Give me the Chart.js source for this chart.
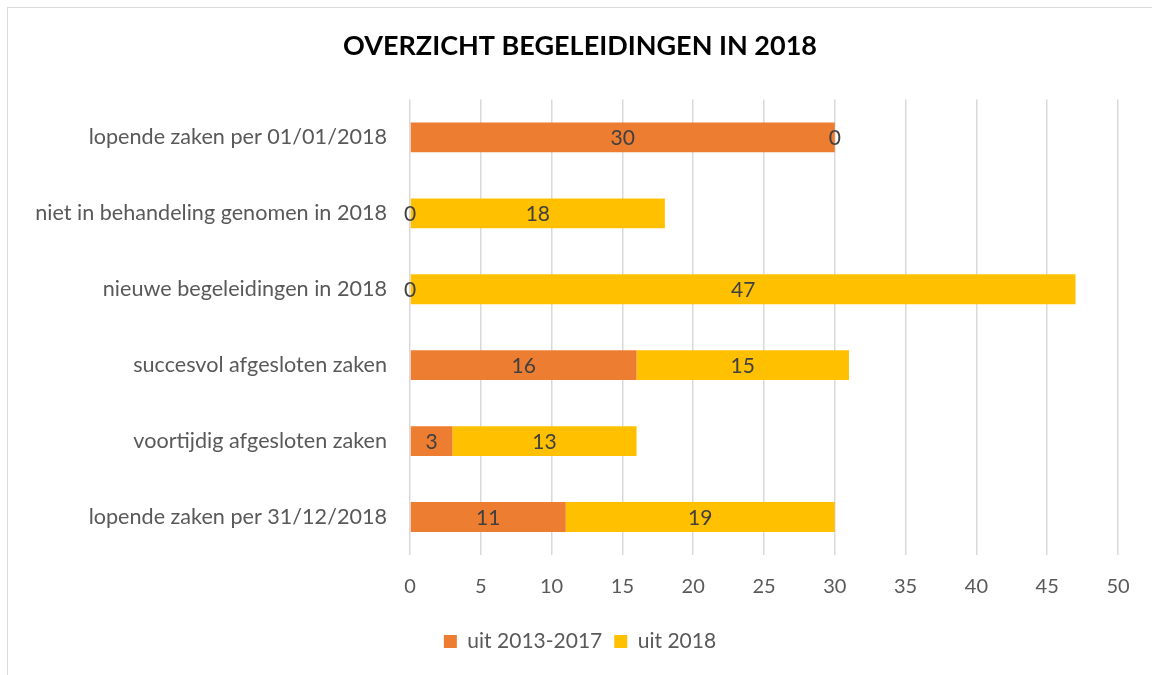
<!DOCTYPE html>
<html>
<head>
<meta charset="utf-8">
<script src="https://cdn.jsdelivr.net/npm/chart.js@4.4.1/dist/chart.umd.min.js"></script>
<style>
  body { margin: 0; overflow: hidden; background: #fff; }
  #frame { position: absolute; left: 7px; top: 7px; width: 1200px; height: 700px; border: 1px solid #d9d9d9; }
  #wrap { position: absolute; left: 0; top: 0; width: 1170px; height: 675px; }
</style>
</head>
<body>
<div id="frame"></div>
<div id="wrap"><canvas id="myChart" width="1170" height="675"></canvas></div>
<script>
var categories = [
    "lopende zaken per 01/01/2018",
    "niet in behandeling genomen in 2018",
    "nieuwe begeleidingen in 2018",
    "succesvol afgesloten zaken",
    "voortijdig afgesloten zaken",
    "lopende zaken per 31/12/2018"
];
var oldCases = [30, 0, 0, 16, 3, 11];   // uit 2013-2017
var newCases = [0, 18, 47, 15, 13, 19]; // uit 2018
var seriesNames = ["uit 2013-2017", "uit 2018"];
var xTicks = [0, 5, 10, 15, 20, 25, 30, 35, 40, 45, 50];

var fontName = "Lato";

// draws the value in the middle of every bar piece (also the zeros)
var valueLabels = {
    id: "valueLabels",
    afterDatasetsDraw: function(chart) {
        var ctx = chart.ctx;
        ctx.save();
        ctx.font = "21px " + fontName;
        ctx.fillStyle = "#404040";
        ctx.textAlign = "center";
        ctx.textBaseline = "middle";
        chart.data.datasets.forEach(function(ds, i) {
            var meta = chart.getDatasetMeta(i);
            meta.data.forEach(function(bar, j) {
                var x = (bar.x + bar.base) / 2;
                ctx.fillText(String(ds.data[j]), x, bar.y + 1);
            });
        });
        ctx.restore();
    }
};

var data = {
    labels: categories,
    datasets: [{
        label: seriesNames[0],
        data: oldCases,
        backgroundColor: "#ed7d31",
        barPercentage: 0.393,
        categoryPercentage: 1
    }, {
        label: seriesNames[1],
        data: newCases,
        backgroundColor: "#ffc000",
        barPercentage: 0.393,
        categoryPercentage: 1
    }]
};

var config = {
    type: "bar",
    data: data,
    options: {
        indexAxis: "y",
        responsive: false,
        animation: false,
        layout: { padding: { left: 14, right: 24, top: 10, bottom: 13 } },
        scales: {
            x: {
                stacked: true,
                min: 0,
                max: 50,
                afterBuildTicks: function(scale) {
                    scale.ticks = xTicks.map(function(v) { return { value: v }; });
                },
                afterFit: function(scale) { scale.height = 64; },
                grid: { color: "#d9d9d9", lineWidth: 1.5, drawTicks: false },
                border: { display: false },
                ticks: { color: "#595959", font: { family: fontName, size: 20 }, padding: 20 }
            },
            y: {
                stacked: true,
                afterFit: function(scale) { scale.width = 410 - 14; },
                grid: { display: false },
                border: { display: false },
                ticks: { color: "#595959", font: { family: fontName, size: 21.6 }, padding: 15 }
            },
            // empty axis on the right, only there to keep the title centred like the original
            yRight: {
                position: "right",
                afterFit: function(scale) { scale.width = 28; },
                grid: { display: false },
                border: { display: false },
                ticks: { display: false }
            }
        },
        plugins: {
            title: {
                display: true,
                text: "OVERZICHT BEGELEIDINGEN IN 2018",
                color: "#000",
                font: { family: fontName, size: 27, weight: "bold" },
                padding: { top: 20, bottom: 37 }
            },
            legend: {
                position: "bottom",
                labels: {
                    color: "#595959",
                    font: { family: fontName, size: 21 },
                    boxWidth: 13,
                    boxHeight: 13,
                    padding: 12
                }
            },
            tooltip: { enabled: false }
        }
    },
    plugins: [valueLabels]
};

var myChart = new Chart(document.getElementById("myChart"), config);
</script>
</body>
</html>
